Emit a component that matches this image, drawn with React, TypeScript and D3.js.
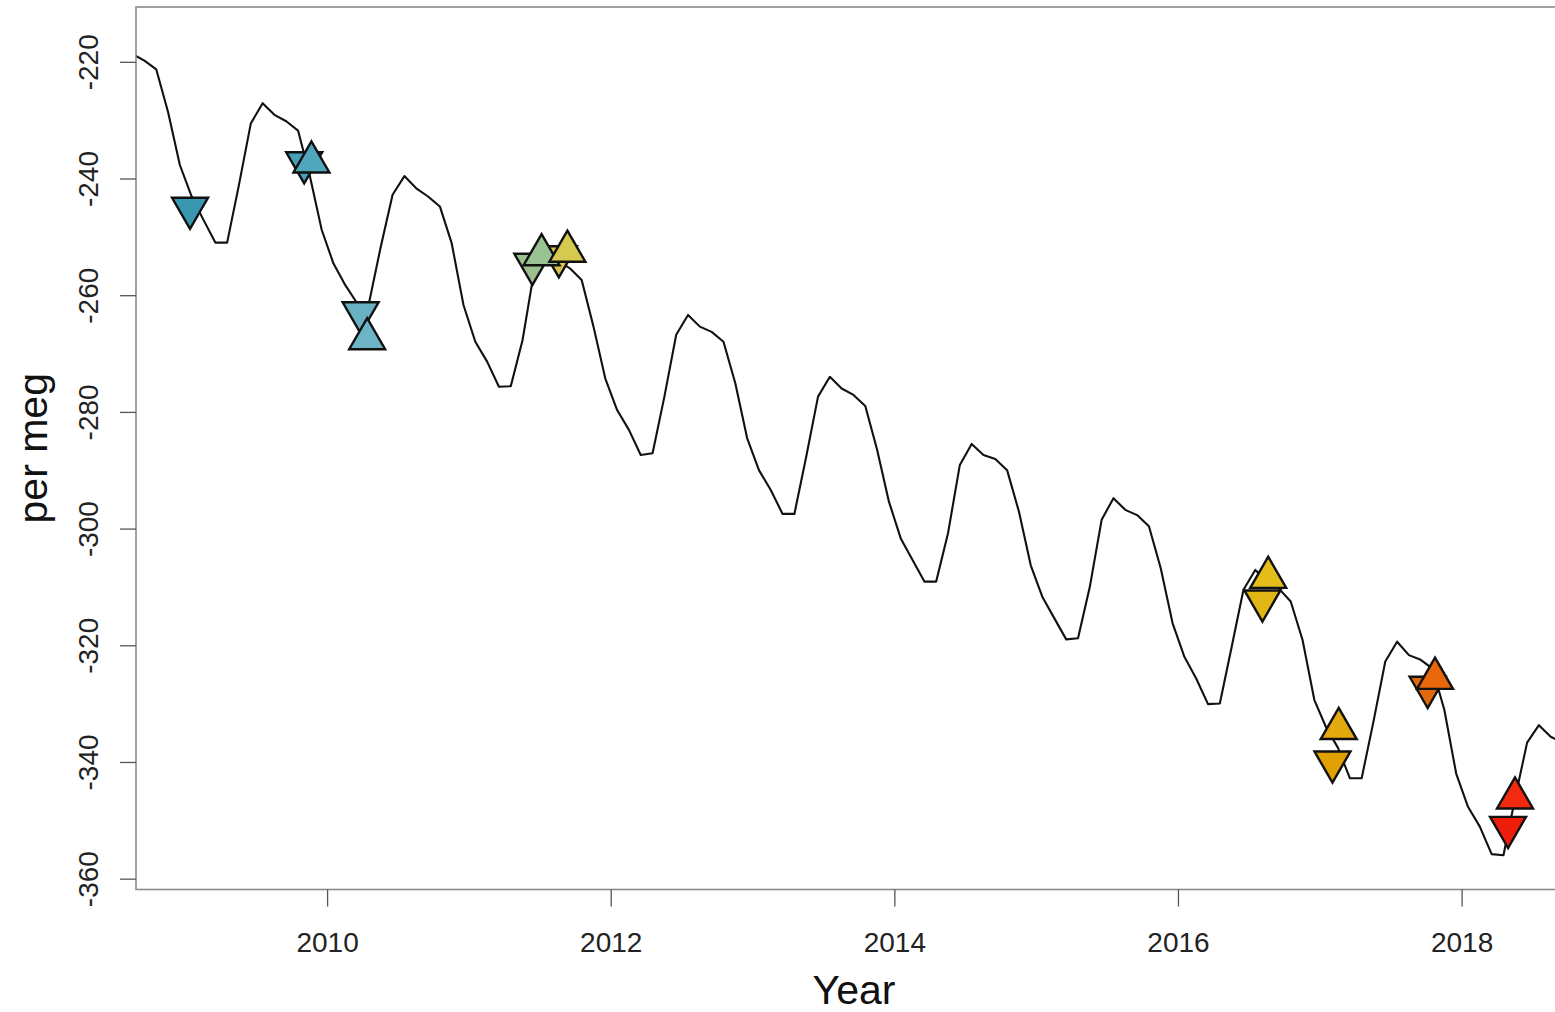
import React from "react";
import * as d3 from "d3";

// Monthly fitted record (mid-month values), starting August 2008
const seriesStartYear = 2008;
const seriesStartMonth = 8;
const monthlyValues: number[] = [
  // 2008 Aug–Dec
  -218.6, -219.7, -221.2, -228.5, -237.6,
  // 2009
  -243.0, -247.0, -250.9, -250.9, -241.0, -230.5, -227.0, -229.0, -230.1, -231.7, -239.5, -248.7,
  // 2010
  -254.5, -258.2, -261.3, -261.3, -251.6, -242.7, -239.5, -241.6, -243.0, -244.7, -251.0, -261.6,
  // 2011
  -267.9, -271.3, -275.6, -275.5, -267.6, -255.5, -252.0, -254.0, -255.3, -257.3, -265.3, -274.2,
  // 2012
  -279.6, -283.0, -287.3, -287.0, -277.3, -266.7, -263.3, -265.3, -266.2, -267.9, -275.0, -284.4,
  // 2013
  -289.9, -293.3, -297.4, -297.4, -287.6, -277.3, -273.9, -275.9, -277.0, -278.9, -286.4, -295.3,
  // 2014
  -301.6, -305.3, -309.0, -309.0, -300.7, -289.0, -285.4, -287.3, -288.0, -289.9, -297.0, -306.2,
  // 2015
  -311.7, -315.3, -318.9, -318.7, -309.9, -298.4, -294.7, -296.7, -297.6, -299.5, -306.7, -316.1,
  // 2016
  -321.9, -325.6, -330.0, -329.9, -320.2, -310.4, -307.0, -309.0, -310.2, -312.4, -319.0, -329.3,
  // 2017
  -334.0, -337.5, -342.7, -342.7, -333.0, -322.7, -319.3, -321.6, -322.4, -323.9, -331.0, -341.9,
  // 2018 Jan–Sep
  -347.6, -351.0, -355.7, -355.9, -346.0, -336.6, -333.6, -335.6, -336.6,
];

// Individual observations (decimal year, per meg, marker direction)
const obsYear: number[] = [
  2009.030, 2009.835, 2009.886, 2010.233, 2010.279,
  2011.444, 2011.509, 2011.631, 2011.691,
  2016.592, 2016.633, 2017.086, 2017.130,
  2017.757, 2017.809, 2018.324, 2018.373,
];
const obsValue: number[] = [
  -245.0, -237.2, -237.1, -262.9, -267.4,
  -254.6, -253.0, -253.3, -252.4,
  -312.3, -308.3, -339.9, -334.2,
  -327.1, -325.6, -351.1, -346.1,
];
const obsDirection: ("up" | "down")[] = [
  "down", "down", "up", "down", "up",
  "down", "up", "down", "up",
  "down", "up", "down", "up",
  "down", "up", "down", "up",
];
const obsFill: string[] = [
  "#3a97b1", "#46a0b7", "#50a7bb", "#68b2c4", "#6cb5c5",
  "#9cc08e", "#9ac394", "#d8c44c", "#d5ca50",
  "#e2b614", "#e5bd1b", "#e0a000", "#e4a90c",
  "#e2680e", "#e8670a", "#ee1d0b", "#f12a10",
];

const xTickValues = [2010, 2012, 2014, 2016, 2018];
const yTickValues = [-360, -340, -320, -300, -280, -260, -240, -220];

const W = 1555;
const H = 1012;
const plot = { left: 136, right: 1572, top: 7, bottom: 889.5 };
const FONT = "'Liberation Sans', Arial, Helvetica, sans-serif";

export default function App() {
  const x = d3.scaleLinear().domain([2008.649, 2018.775]).range([plot.left, plot.right]);
  const y = d3.scaleLinear().domain([-361.77, -210.52]).range([plot.bottom, plot.top]);

  const series = monthlyValues.map((v, i) => ({
    t: seriesStartYear + (seriesStartMonth - 1 + i + 0.5) / 12,
    v,
  }));
  const linePath = d3
    .line<{ t: number; v: number }>()
    .x((d) => x(d.t))
    .y((d) => y(d.v))(series) as string;

  const tri = d3.symbol().type(d3.symbolTriangle).size(561)() as string;

  const markers = obsYear.map((t, i) => ({
    t,
    v: obsValue[i],
    dir: obsDirection[i],
    fill: obsFill[i],
  }));
  // down-pointing markers first, upward ones on top
  const ordered = [
    ...markers.filter((m) => m.dir === "down"),
    ...markers.filter((m) => m.dir === "up"),
  ];

  return (
    <svg
      width={W}
      height={H}
      style={{ position: "absolute", left: 0, top: 0, background: "#fff" }}
      fontFamily={FONT}
    >
      <defs>
        <clipPath id="plot-clip">
          <rect
            x={plot.left}
            y={plot.top}
            width={plot.right - plot.left}
            height={plot.bottom - plot.top}
          />
        </clipPath>
      </defs>
      <rect width={W} height={H} fill="#fff" />

      <g clipPath="url(#plot-clip)">
        <path d={linePath} fill="none" stroke="#111" strokeWidth={2.1} strokeLinejoin="round" />
        {ordered.map((m, i) => (
          <path
            key={i}
            d={tri}
            transform={`translate(${x(m.t)},${y(m.v)})${m.dir === "down" ? " rotate(180)" : ""}`}
            fill={m.fill}
            stroke="#111"
            strokeWidth={2.4}
            strokeLinejoin="miter"
          />
        ))}
      </g>

      {/* plot frame */}
      <rect
        x={plot.left}
        y={plot.top}
        width={plot.right - plot.left}
        height={plot.bottom - plot.top}
        fill="none"
        stroke="#8a8a8a"
        strokeWidth={1.6}
      />

      {/* x axis */}
      {xTickValues.map((t) => (
        <g key={t}>
          <line x1={x(t)} x2={x(t)} y1={plot.bottom} y2={plot.bottom + 17} stroke="#555" strokeWidth={1.3} />
          <text x={x(t)} y={952} textAnchor="middle" fontSize={28} fill="#222">
            {t}
          </text>
        </g>
      ))}

      {/* y axis */}
      {yTickValues.map((v) => (
        <g key={v}>
          <line x1={plot.left - 16} x2={plot.left} y1={y(v)} y2={y(v)} stroke="#555" strokeWidth={1.3} />
          <text
            transform={`translate(98,${y(v)}) rotate(-90)`}
            textAnchor="middle"
            fontSize={28}
            fill="#222"
          >
            {v}
          </text>
        </g>
      ))}

      <text x={854} y={1004} textAnchor="middle" fontSize={41} fill="#111">
        Year
      </text>
      <text
        transform={`translate(47,${(plot.top + plot.bottom) / 2}) rotate(-90)`}
        textAnchor="middle"
        fontSize={41}
        fill="#111"
      >
        per meg
      </text>
    </svg>
  );
}
